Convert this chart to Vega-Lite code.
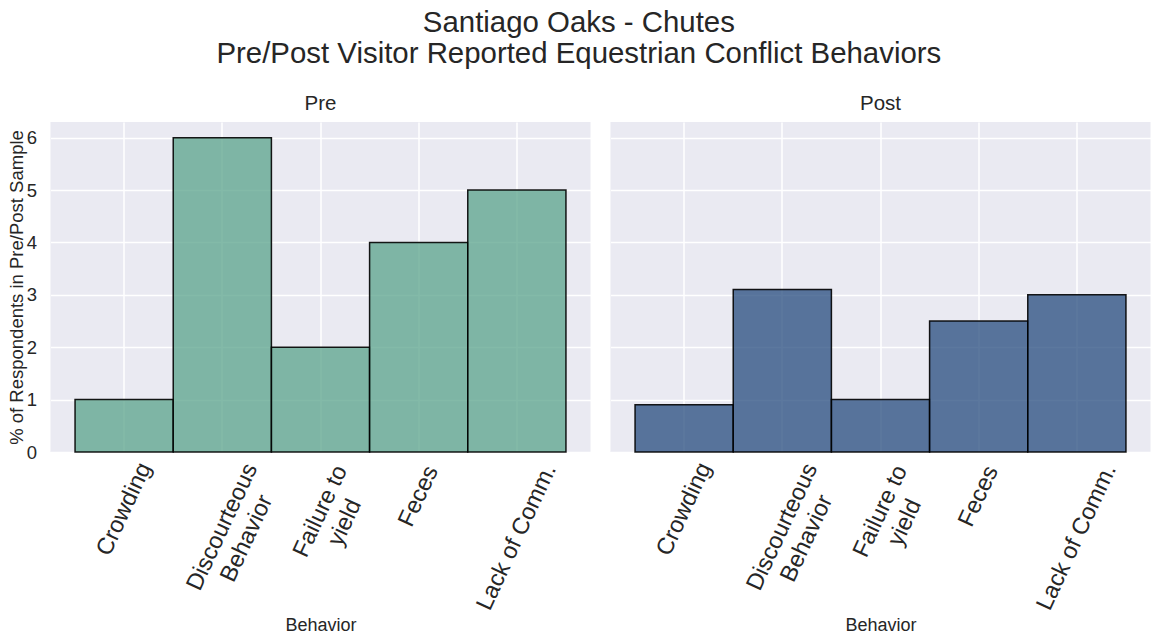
{
  "$schema": "https://vega.github.io/schema/vega-lite/v6.json",
  "background": "white",
  "padding": {"left": 6.5, "top": 8, "right": 0, "bottom": 0},
  "title": {
    "text": ["Santiago Oaks - Chutes", "Pre/Post Visitor Reported Equestrian Conflict Behaviors"],
    "fontSize": 29.4,
    "lineHeight": 31,
    "font": "Liberation Sans",
    "fontWeight": "normal",
    "color": "#262626",
    "anchor": "middle",
    "offset": 24
  },
  "data": {
    "values": [
      {"phase": "Pre", "behavior": "Crowding", "pct": 1.0},
      {"phase": "Pre", "behavior": "Discourteous Behavior", "pct": 6.0},
      {"phase": "Pre", "behavior": "Failure to yield", "pct": 2.0},
      {"phase": "Pre", "behavior": "Feces", "pct": 4.0},
      {"phase": "Pre", "behavior": "Lack of Comm.", "pct": 5.0},
      {"phase": "Post", "behavior": "Crowding", "pct": 0.9},
      {"phase": "Post", "behavior": "Discourteous Behavior", "pct": 3.1},
      {"phase": "Post", "behavior": "Failure to yield", "pct": 1.0},
      {"phase": "Post", "behavior": "Feces", "pct": 2.5},
      {"phase": "Post", "behavior": "Lack of Comm.", "pct": 3.0}
    ]
  },
  "facet": {
    "column": {
      "field": "phase",
      "type": "nominal",
      "sort": ["Pre", "Post"],
      "header": {
        "title": null,
        "labelFontSize": 20.5,
        "labelFont": "Liberation Sans",
        "labelColor": "#262626",
        "labelPadding": 8
      }
    }
  },
  "spacing": 20,
  "spec": {
    "width": 540,
    "height": 330,
    "mark": {"type": "bar", "stroke": "#000000", "strokeWidth": 1.5, "fillOpacity": 0.75, "strokeOpacity": 0.9},
    "encoding": {
      "x": {
        "field": "behavior",
        "type": "nominal",
        "sort": ["Crowding", "Discourteous Behavior", "Failure to yield", "Feces", "Lack of Comm."],
        "scale": {"paddingInner": 0, "paddingOuter": 0.25},
        "axis": {
          "title": "Behavior",
          "titleFontSize": 18,
          "titlePadding": 3,
          "bandPosition": 0.5,
          "labelAngle": -65,
          "labelAlign": "center",
          "labelBaseline": "middle",
          "labelFontSize": 23.5,
          "labelLineHeight": 27,
          "labelOverlap": false,
          "labelLimit": 400,
          "labelExpr": "datum.value == 'Discourteous Behavior' ? ['Discourteous', 'Behavior'] : datum.value == 'Failure to yield' ? ['Failure to', 'yield'] : datum.value",
          "labelPadding": {
            "condition": [
              {"test": "datum.value == 'Crowding'", "value": 55.7},
              {"test": "datum.value == 'Discourteous Behavior'", "value": 73.5},
              {"test": "datum.value == 'Failure to yield'", "value": 57.8},
              {"test": "datum.value == 'Feces'", "value": 42.8}
            ],
            "value": 83.7
          }
        }
      },
      "y": {
        "field": "pct",
        "type": "quantitative",
        "scale": {"domain": [0, 6.3], "nice": false},
        "axis": {
          "values": [0, 1, 2, 3, 4, 5, 6],
          "title": "% of Respondents in Pre/Post Sample",
          "titleFontSize": 18.5,
          "titlePadding": 0,
          "labelFontSize": 18.5,
          "labelPadding": 14
        }
      },
      "color": {
        "field": "phase",
        "type": "nominal",
        "scale": {"domain": ["Pre", "Post"], "range": ["#59A38B", "#254B7D"]},
        "legend": null
      }
    }
  },
  "config": {
    "font": "Liberation Sans",
    "view": {"fill": "#EAEAF2", "stroke": null},
    "axis": {
      "domain": false,
      "ticks": false,
      "grid": true,
      "gridColor": "#FFFFFF",
      "gridWidth": 1.5,
      "gridOpacity": 1,
      "labelFont": "Liberation Sans",
      "labelColor": "#262626",
      "titleFont": "Liberation Sans",
      "titleColor": "#262626",
      "titleFontWeight": "normal"
    }
  }
}
